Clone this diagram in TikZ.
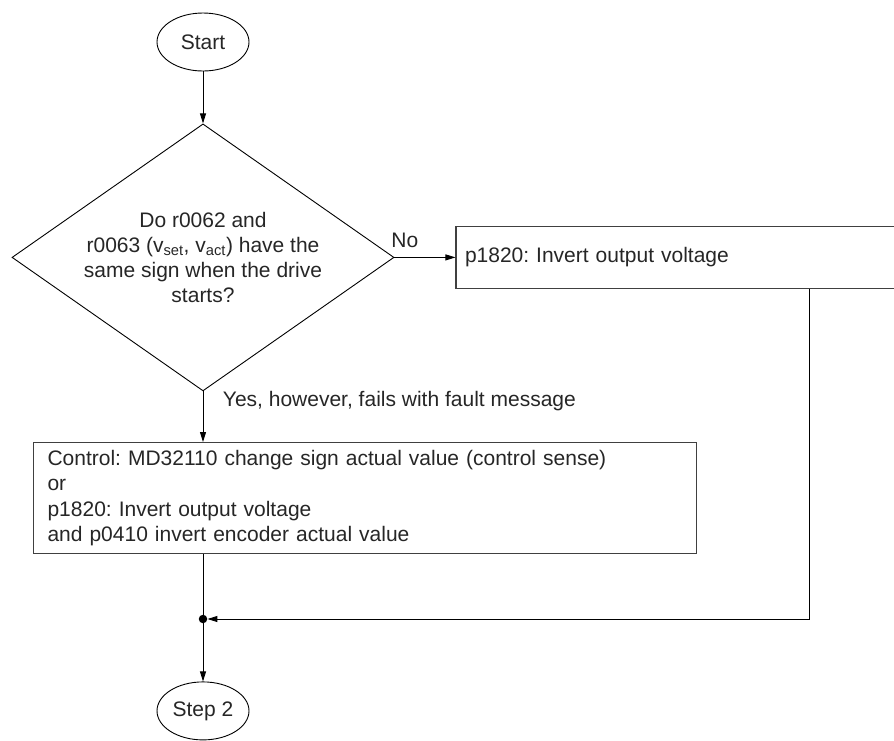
\documentclass[tikz,border=0pt]{standalone}
\usepackage{fontspec}
\setmainfont{Liberation Sans}
\frenchspacing
\usetikzlibrary{positioning,arrows.meta,shapes.geometric}
\tikzset{
  >={Triangle[length=10pt,width=6pt]},
  txt/.style={font=\fontsize{21}{25.2}\selectfont,text=black!85},
  term/.style={txt,ellipse,draw,line width=0.9pt,minimum width=92pt,
    minimum height=58pt,inner sep=0pt},
  decide/.style={txt,diamond,draw,line width=0.9pt,minimum width=382pt,
    minimum height=267pt,aspect=1.43,inner sep=0pt,align=center},
  actbox/.style={txt,draw=black!75,rectangle,line width=1.1pt,inner ysep=0pt,align=left},
  flow/.style={->,line width=0.9pt},
  flowlbl/.style={txt,inner sep=1.5pt},
  jdot/.style={circle,fill=black,inner sep=3pt},
}
\begin{document}
\begin{tikzpicture}[x=1pt,y=-1pt]
  \useasboundingbox (0,0) rectangle (894,740);
  \node[term] (start) at (203,42) {Start};
  \node[decide,below=52pt of start] (dec) {Do r0062 and\\
    r0063 (v\textsubscript{set}, v\textsubscript{act}) have the\\
    same sign when the drive\\ starts?};
  \node[actbox,text width=421pt,minimum height=62pt,inner xsep=9pt,
    right=61pt of dec] (inv) {p1820: Invert output voltage};
  \node[actbox,text width=635pt,minimum height=111pt,inner xsep=14pt,
    anchor=north west] (fix) at (33,442) {Control: MD32110 change sign actual value (control sense)\\
    or\\ p1820: Invert output voltage\\ and p0410 invert encoder actual value};
  \node[jdot] (join) at (203,619) {};
  \node[term,below=58pt of join] (step) {Step 2};
  \coordinate (back) at (809,619);
  \draw[flow] (start) -- (dec);
  \draw[flow] (dec.east) -- (inv.west)
    node[flowlbl,pos=0,anchor=south west,xshift=-5pt,yshift=8pt] {No};
  \draw[flow] (dec.south) -- (dec.south |- fix.north)
    node[flowlbl,pos=0,anchor=north west,xshift=18pt,yshift=2pt] {Yes, however, fails with fault message};
  \draw[line width=0.9pt] (dec.south |- fix.south) -- (join);
  \draw[flow] (back |- inv.south) -- (back) -- (join);
  \draw[flow] (join) -- (step);
\end{tikzpicture}
\end{document}
